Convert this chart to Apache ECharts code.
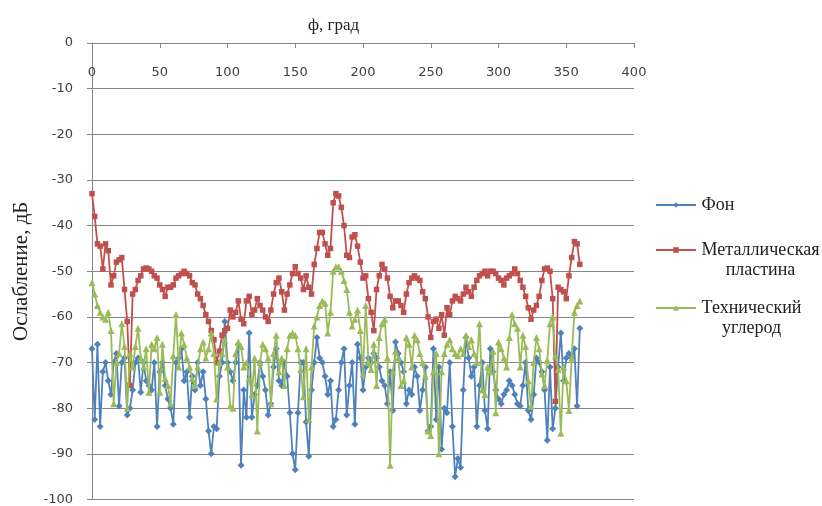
<!DOCTYPE html>
<html><head><meta charset="utf-8">
<script src="https://cdn.jsdelivr.net/npm/echarts@6/dist/echarts.min.js"></script>
<style>html,body{margin:0;padding:0;background:#fff}#c{width:822px;height:506px}</style>
</head><body><div id="c"></div>
<script>
const seriesNames = ['Фон', 'Металлическая пластина', 'Технический углерод'];
const legendLines = [['Фон'], ['Металлическая', 'пластина'], ['Технический', 'углерод']];
const xTicks = [0, 50, 100, 150, 200, 250, 300, 350, 400];
const yTicks = [0, -10, -20, -30, -40, -50, -60, -70, -80, -90, -100];

const angles = [
  0, 2, 4, 6, 8, 10, 12, 14, 16, 18,
  20, 22, 24, 26, 28, 30, 32, 34, 36, 38,
  40, 42, 44, 46, 48, 50, 52, 54, 56, 58,
  60, 62, 64, 66, 68, 70, 72, 74, 76, 78,
  80, 82, 84, 86, 88, 90, 92, 94, 96, 98,
  100, 102, 104, 106, 108, 110, 112, 114, 116, 118,
  120, 122, 124, 126, 128, 130, 132, 134, 136, 138,
  140, 142, 144, 146, 148, 150, 152, 154, 156, 158,
  160, 162, 164, 166, 168, 170, 172, 174, 176, 178,
  180, 182, 184, 186, 188, 190, 192, 194, 196, 198,
  200, 202, 204, 206, 208, 210, 212, 214, 216, 218,
  220, 222, 224, 226, 228, 230, 232, 234, 236, 238,
  240, 242, 244, 246, 248, 250, 252, 254, 256, 258,
  260, 262, 264, 266, 268, 270, 272, 274, 276, 278,
  280, 282, 284, 286, 288, 290, 292, 294, 296, 298,
  300, 302, 304, 306, 308, 310, 312, 314, 316, 318,
  320, 322, 324, 326, 328, 330, 332, 334, 336, 338,
  340, 342, 344, 346, 348, 350, 352, 354, 356, 358,
  360
];

const fon = [
  -67, -82.5, -66, -84, -72, -70, -74, -77, -70, -68,
  -79.5, -70, -69, -81.5, -80, -76, -70, -69, -76.5, -70,
  -74, -75, -76, -70, -84, -72, -70, -75, -78, -80,
  -83.5, -70, -69, -67, -74, -72, -82, -73, -76, -70,
  -75, -72, -78, -85, -90, -84, -84.5, -73, -70, -61,
  -70, -72, -74, -70, -66, -92.5, -76, -82, -63.5, -82,
  -77, -75, -70, -73, -76, -81.5, -79, -71, -67, -74,
  -75, -70, -73, -81, -90, -93.5, -81, -70, -70, -83,
  -90.5, -76, -70, -64.5, -69, -70, -73, -77, -74, -84,
  -82.5, -76, -70, -67, -81.5, -75, -70, -83.5, -66, -69,
  -76, -71, -69, -70, -68, -69, -71, -74, -75, -79,
  -72, -80.5, -65.5, -68, -70, -72, -79, -76, -77, -71,
  -73, -80.5, -76, -71, -85, -84, -67, -82.5, -71, -89,
  -80, -81, -70, -84, -95, -91, -93, -76, -64.5, -69,
  -73, -71, -84, -75, -70, -80.5, -84.5, -67, -72, -76,
  -78, -79, -77, -76, -74, -75, -77, -79, -79.5, -75,
  -70, -80.5, -82.5, -77, -69, -70, -72, -76, -87, -71,
  -84.5, -80, -71, -63.5, -74, -69, -68, -69, -67, -79.5,
  -62.5
];

const metal = [
  -33, -38, -44, -44.5, -49.5, -44, -45.5, -53, -51, -48,
  -47.5, -47, -54, -61, -75, -55, -54, -52, -51, -49.5,
  -49.3, -49.5, -50, -51, -51.5, -53, -54, -55.5, -53.5, -53.5,
  -53, -51.5, -51, -50.5, -50, -50.5, -51, -52.5, -53, -55,
  -56, -57.5, -59.5, -61, -63, -65, -70, -67.5, -64, -63,
  -62.5, -58.5, -60, -59, -56.5, -60.5, -61.5, -56.5, -55.5, -59.5,
  -58.5, -56, -57.5, -58.5, -60, -61, -58.5, -55, -52.5, -51.5,
  -54.5, -58.5, -55, -53, -50.5, -49, -50.5, -51.5, -54, -51,
  -53.5, -55, -48.5, -45, -41.5, -41.5, -44, -46.5, -45, -35,
  -33, -33.5, -36, -40, -46.5, -47, -42.5, -42, -44.5, -48,
  -51.5, -51, -56, -59, -63, -54, -51, -48.5, -49.5, -51.5,
  -55.5, -58, -56.5, -56.5, -57.5, -59, -55, -52.5, -51.5, -51,
  -51.5, -52, -54.5, -56, -60, -64.5, -61, -60.5, -62.5, -59.5,
  -64, -58, -59.5, -56.5, -55.5, -56, -56.5, -55, -53.5, -54.5,
  -55.5, -53.5, -52, -51, -50.5, -50, -51, -50, -50, -50.5,
  -51.5, -52, -53, -51.5, -51, -50.5, -49.5, -50.5, -52, -53.5,
  -55.5, -58, -60.5, -58.5, -57.5, -55.5, -52, -49.5, -49.3, -50,
  -56, -78.5, -53.5, -54, -54.5, -56, -51, -47, -43.5, -44,
  -48.5
];

const carbon = [
  -52.5, -55, -57.5, -59, -60, -60.5, -59, -63, -79, -70,
  -68, -61.5, -66.5, -80, -68, -71, -66.5, -62.5, -69, -71,
  -67, -76.5, -66, -67, -64.5, -76.5, -66, -73.5, -75, -79,
  -68.5, -59.5, -71, -63.5, -66, -69, -71, -73.5, -75, -71,
  -67, -65.5, -69, -67, -63.5, -68, -78, -70, -68, -65,
  -71, -79.5, -80, -68, -65.5, -66.5, -71, -70, -73.5, -77,
  -69, -85, -70, -66, -67, -69, -79, -68, -64, -72,
  -69, -75, -67, -64, -63.5, -64, -67, -71.5, -77.5, -67,
  -82.5, -71, -62, -60, -57.5, -56.5, -57, -63.5, -59, -50,
  -49, -49, -50, -52, -54, -59, -62, -60.5, -58.5, -63,
  -72.5, -57.5, -70, -71.5, -66, -75, -64.5, -61.5, -60.5, -69,
  -92.5, -72, -67.5, -69, -75, -74, -64.5, -66, -71, -64,
  -65, -68, -70, -73, -85, -86, -72, -68, -90, -72,
  -68, -66, -65, -67, -68, -68.5, -67, -68, -64, -66.5,
  -65, -68, -70, -61.5, -76, -77, -71, -72, -67.5, -81,
  -65.5, -67, -69, -71, -64.5, -59.5, -61.5, -62.5, -71, -64,
  -66.5, -74, -79.5, -70, -64.5, -67, -72.5, -75, -69.5, -61.5,
  -60, -68.5, -71.5, -85.5, -71, -74, -80.5, -69, -59, -57.5,
  -56.5
];

const colors = ['#4F81BD', '#C0504D', '#9BBB59'];
const symbols = ['diamond', 'rect', 'triangle'];
const symbolSizes = [7, 5.5, 7];
const valuesList = [fon, metal, carbon];

const serif = "'Liberation Serif', 'DejaVu Serif', serif";
const legendFontSize = 18;
const legendLineH = 20;

function textWidth(str, font) {
  const ctx = document.createElement('canvas').getContext('2d');
  ctx.font = font;
  return ctx.measureText(str).width;
}

const chart = echarts.init(document.getElementById('c'), null, {renderer: 'canvas'});
const axisGrey = '#868686';
const labelFont = {color: '#404040', fontFamily: 'DejaVu Sans', fontSize: 13};

function legendFor(idx, top) {
  const lines = legendLines[idx];
  const font = legendFontSize + 'px "Liberation Serif"';
  let w = 0;
  lines.forEach(function (s) { w = Math.max(w, textWidth(s, font)); });
  const style = {width: Math.ceil(w) + 1, align: 'center', fontFamily: serif, fontSize: legendFontSize, lineHeight: legendLineH, color: '#222'};
  let fmt;
  if (lines.length === 1) {
    fmt = function () { return '{s|' + lines[0] + '}'; };
  } else {
    fmt = function () { return '{s| }\n' + lines.map(function (s) { return '{s|' + s + '}'; }).join('\n'); };
  }
  return {
    show: true,
    data: [seriesNames[idx]],
    left: 655,
    top: top,
    orient: 'vertical',
    padding: 0,
    itemWidth: 40,
    itemHeight: 7,
    itemGap: 0,
    selectedMode: false,
    formatter: fmt,
    textStyle: {fontFamily: serif, fontSize: legendFontSize, color: '#222', lineHeight: legendLineH, rich: {s: style}}
  };
}

const option = {
  animation: false,
  backgroundColor: '#fff',
  title: {
    text: 'ф, град',
    left: 303,
    top: 12,
    textStyle: {fontFamily: serif, fontSize: 17, fontWeight: 'normal', color: '#222'}
  },
  grid: {left: 92, right: 188, top: 43, bottom: 6, containLabel: false},
  legend: [legendFor(0, 195), legendFor(1, 220), legendFor(2, 278)],
  xAxis: {
    type: 'value',
    position: 'top',
    min: xTicks[0],
    max: xTicks[xTicks.length - 1],
    interval: xTicks[1] - xTicks[0],
    axisLine: {show: true, onZero: false, lineStyle: {color: axisGrey, width: 1}},
    axisTick: {show: true, inside: true, length: 5, lineStyle: {color: axisGrey}},
    axisLabel: Object.assign({inside: true, margin: 23}, labelFont),
    splitLine: {show: false}
  },
  yAxis: {
    type: 'value',
    min: yTicks[yTicks.length - 1],
    max: yTicks[0],
    interval: 10,
    name: 'Ослабление, дБ',
    nameLocation: 'middle',
    nameRotate: 90,
    nameGap: 60,
    nameTextStyle: {fontFamily: serif, fontSize: 21, color: '#222'},
    axisLine: {show: true, lineStyle: {color: axisGrey, width: 1}},
    axisTick: {show: true, inside: false, length: 5, lineStyle: {color: axisGrey}},
    axisLabel: Object.assign({margin: 19}, labelFont),
    splitLine: {show: true, lineStyle: {color: axisGrey, width: 1}}
  },
  series: valuesList.map(function (vals, k) {
    return {
      name: seriesNames[k],
      type: 'line',
      data: angles.map(function (a, i) { return [a, vals[i]]; }),
      symbol: symbols[k],
      symbolSize: symbolSizes[k],
      showAllSymbol: true,
      lineStyle: {color: colors[k], width: 1.8},
      itemStyle: {color: colors[k], borderWidth: 0},
      z: 2 + k
    };
  })
};
chart.setOption(option);
</script>
</body></html>
